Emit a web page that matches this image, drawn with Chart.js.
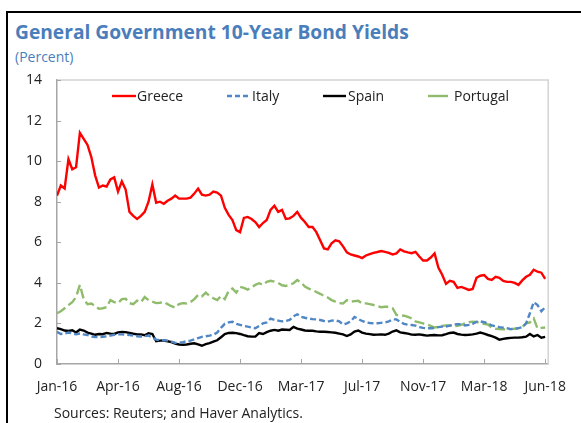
<!DOCTYPE html>
<html><head><meta charset="utf-8">
<script src="https://cdn.jsdelivr.net/npm/chart.js@4.4.1/dist/chart.umd.min.js"></script>
<style>
html,body{margin:0;padding:0;background:#fff;}
body{width:581px;height:423px;position:relative;overflow:hidden;font-family:"Open Sans",sans-serif;}
#frame{position:absolute;left:6px;top:11px;width:640px;height:540px;border-top:2px solid #000;border-left:2px solid #000;}
#title{position:absolute;left:15px;top:20px;font-size:19.2px;font-weight:bold;color:#4a7ebb;white-space:nowrap;line-height:24px;}
#unit{position:absolute;left:15px;top:47px;font-size:14px;color:#4a7ebb;line-height:19px;}
#src{position:absolute;left:54px;top:403px;font-size:14px;color:#222;line-height:19px;white-space:nowrap;}
#cv{position:absolute;left:0;top:0;}
.leg{position:absolute;top:86px;font-size:14px;color:#222;white-space:nowrap;line-height:19px;display:flex;align-items:center;}
.leg svg{display:block;margin-right:1px;}
</style></head>
<body>
<div id="frame"></div>
<div id="title">General Government 10-Year Bond Yields</div>
<div id="unit">(Percent)</div>
<canvas id="cv" width="581" height="423"></canvas>
<div id="legend"></div>
<div id="src">Sources: Reuters; and Haver Analytics.</div>
<script>
const seriesNames = ["Greece", "Italy", "Spain", "Portugal"];
const tickPositions = [0, 16, 32, 48, 64, 80, 96, 112, 128];
const tickLabels = ["Jan-16", "Apr-16", "Aug-16", "Dec-16", "Mar-17", "Jul-17", "Nov-17", "Mar-18", "Jun-18"];

const greece = [8.3,8.8,8.65,10.1,9.6,9.7,11.4,11.1,10.8,10.2,9.3,8.7,8.8,8.75,9.1,9.2,8.5,9.0,8.6,7.5,
7.3,7.15,7.3,7.5,8.0,8.85,7.95,8.0,7.9,8.05,8.15,8.3,8.15,8.15,8.15,8.2,8.4,8.65,8.35,8.3,
8.35,8.5,8.45,8.3,7.7,7.35,7.1,6.6,6.5,7.2,7.25,7.15,7.0,6.75,6.95,7.1,7.6,7.8,7.5,7.6,
7.15,7.18,7.3,7.5,7.2,7.0,6.75,6.75,6.5,6.1,5.7,5.65,5.95,6.1,6.05,5.8,5.5,5.4,5.35,5.3,
5.22,5.35,5.42,5.48,5.52,5.57,5.53,5.48,5.4,5.45,5.65,5.55,5.5,5.46,5.53,5.3,5.1,5.1,5.25,5.45,
4.75,4.4,3.95,4.1,4.05,3.75,3.8,3.73,3.65,3.7,4.25,4.35,4.38,4.2,4.15,4.3,4.25,4.1,4.05,4.05,
4.0,3.9,4.12,4.3,4.4,4.65,4.55,4.5,4.2];

const italy = [1.59,1.48,1.5,1.55,1.52,1.46,1.5,1.46,1.43,1.36,1.33,1.32,1.34,1.36,1.4,1.44,1.46,1.46,1.45,1.43,
1.4,1.37,1.35,1.37,1.4,1.3,1.2,1.18,1.17,1.15,1.1,1.04,1.05,1.08,1.12,1.15,1.22,1.28,1.34,1.37,
1.4,1.44,1.55,1.78,1.98,2.05,2.08,1.98,1.93,1.88,1.84,1.8,1.76,1.88,2.0,2.05,2.24,2.18,2.14,2.1,
2.12,2.17,2.35,2.45,2.33,2.28,2.24,2.21,2.2,2.17,2.12,2.09,2.14,2.15,2.1,1.95,2.0,2.1,2.32,2.22,
2.12,2.05,2.02,2.0,2.01,2.03,2.05,2.1,2.2,2.2,2.08,1.98,1.94,1.92,1.89,1.82,1.78,1.76,1.76,1.78,
1.82,1.84,1.85,1.89,1.95,1.96,1.96,1.9,1.93,1.98,2.08,2.1,2.06,2.0,1.9,1.86,1.82,1.79,1.76,1.72,
1.74,1.77,1.82,2.0,2.5,3.05,2.9,2.6,2.8];

const spain = [1.76,1.72,1.65,1.63,1.66,1.55,1.7,1.65,1.55,1.5,1.44,1.48,1.47,1.53,1.5,1.48,1.56,1.58,1.57,1.53,
1.49,1.46,1.46,1.42,1.52,1.48,1.12,1.15,1.16,1.12,1.08,1.0,0.96,0.95,0.96,1.0,1.02,0.97,0.9,0.98,
1.03,1.1,1.17,1.32,1.48,1.53,1.54,1.52,1.48,1.42,1.37,1.35,1.35,1.52,1.48,1.57,1.64,1.68,1.64,1.7,
1.69,1.68,1.83,1.74,1.7,1.65,1.64,1.64,1.61,1.59,1.59,1.58,1.56,1.54,1.5,1.46,1.38,1.46,1.6,1.65,
1.55,1.5,1.47,1.44,1.45,1.46,1.44,1.5,1.6,1.66,1.56,1.53,1.5,1.45,1.44,1.46,1.43,1.4,1.42,1.43,
1.41,1.42,1.47,1.53,1.55,1.48,1.45,1.43,1.44,1.46,1.5,1.55,1.5,1.43,1.37,1.3,1.2,1.24,1.27,1.29,
1.3,1.3,1.32,1.35,1.48,1.36,1.43,1.3,1.34];

const portugal = [2.5,2.6,2.75,2.9,3.05,3.3,3.9,3.2,2.95,2.98,2.85,2.72,2.75,2.8,3.15,3.05,3.0,3.2,3.22,3.0,
2.95,3.12,3.05,3.3,3.15,3.07,3.0,3.02,3.06,2.95,2.85,2.78,2.95,3.0,2.98,3.05,3.2,3.4,3.33,3.52,
3.35,3.24,3.15,3.35,3.2,3.6,3.72,3.52,3.8,3.75,3.67,3.78,3.9,3.98,3.9,4.05,4.1,4.06,4.0,3.88,
3.85,3.9,3.98,4.14,4.02,3.82,3.72,3.65,3.55,3.46,3.36,3.28,3.15,3.07,3.0,2.98,3.15,3.07,3.1,3.12,
2.98,2.99,2.95,2.91,2.85,2.8,2.82,2.82,2.75,2.42,2.4,2.38,2.32,2.25,2.1,2.05,2.0,1.95,1.88,1.8,
1.83,1.88,1.9,1.9,1.87,1.88,1.93,2.0,2.06,2.09,2.07,2.02,1.98,1.95,1.8,1.74,1.72,1.71,1.7,1.72,
1.74,1.76,1.83,2.0,2.05,2.25,1.75,1.78,1.8];

const colors = ["#ff0000", "#4f86c6", "#000000", "#8fbc6c"];
const dashes = [[], [6, 3], [], [10, 4]];
const values = [greece, italy, spain, portugal];

const datasets = seriesNames.map((n, k) => ({
  label: n,
  data: values[k].map((v, i) => ({x: i, y: v})),
  borderColor: colors[k],
  borderWidth: 2.4,
  borderDash: dashes[k],
  pointRadius: 0,
  tension: 0,
  fill: false
}));

const frameAndTicks = {
  id: 'frameAndTicks',
  beforeDatasetsDraw(chart) {
    const {ctx, chartArea: a, scales: {x, y}} = chart;
    ctx.save();
    ctx.strokeStyle = '#d4d4d4';
    ctx.lineWidth = 1.5;
    ctx.beginPath();
    ctx.moveTo(a.left, a.top); ctx.lineTo(a.right, a.top); ctx.lineTo(a.right, a.bottom);
    ctx.stroke();
    ctx.strokeStyle = '#a6a6a6';
    ctx.lineWidth = 1;
    ctx.beginPath();
    y.ticks.forEach(t => { const p = Math.round(y.getPixelForValue(t.value)) + 0.5; ctx.moveTo(a.left, p); ctx.lineTo(a.left + 4, p); });
    x.ticks.forEach(t => { const p = Math.round(x.getPixelForValue(t.value)) + 0.5; ctx.moveTo(p, a.bottom); ctx.lineTo(p, a.bottom - 5); });
    ctx.stroke();
    ctx.restore();
  }
};

const tickFont = {family: '"Open Sans", sans-serif', size: 14};

new Chart(document.getElementById('cv'), {
  type: 'line',
  data: {datasets},
  plugins: [frameAndTicks],
  options: {
    responsive: false,
    animation: false,
    layout: {padding: {top: 80, right: 19, left: 0, bottom: 0}},
    plugins: {legend: {display: false}, tooltip: {enabled: false}},
    scales: {
      x: {
        type: 'linear', min: 0, max: 128.8,
        afterBuildTicks: s => { s.ticks = tickPositions.map(v => ({value: v})); },
        afterFit: s => { s.height = 59; },
        grid: {drawOnChartArea: false, drawTicks: false},
        border: {color: '#a6a6a6', width: 1.5},
        ticks: {padding: 15, autoSkip: false, maxRotation: 0, font: tickFont, color: '#222',
          callback: v => tickLabels[tickPositions.indexOf(v)]}
      },
      y: {
        min: 0, max: 14,
        afterFit: s => { s.width = 57; },
        grid: {drawOnChartArea: false, drawTicks: false},
        border: {color: '#a6a6a6', width: 1.5},
        ticks: {stepSize: 2, padding: 15, font: tickFont, color: '#222'}
      }
    }
  }
});

// Legend built from the datasets
const legLeft = [112, 227, 323, 428];
const legLen = [24, 23, 23, 20];
const legGap = [0, 1, 1, 5];
const legend = document.getElementById('legend');
datasets.forEach((d, k) => {
  const el = document.createElement('div');
  el.className = 'leg';
  el.style.left = legLeft[k] + 'px';
  const w = legLen[k];
  el.innerHTML = '<svg width="' + (w + legGap[k]) + '" height="6"><line x1="0" y1="3" x2="' + w + '" y2="3" stroke="' + d.borderColor +
    '" stroke-width="2.4"' + (d.borderDash.length ? ' stroke-dasharray="' + (k === 1 ? '5,3' : '20,0') + '"' : '') + '/></svg><span>' + d.label + '</span>';
  legend.appendChild(el);
});
</script>
</body></html>
